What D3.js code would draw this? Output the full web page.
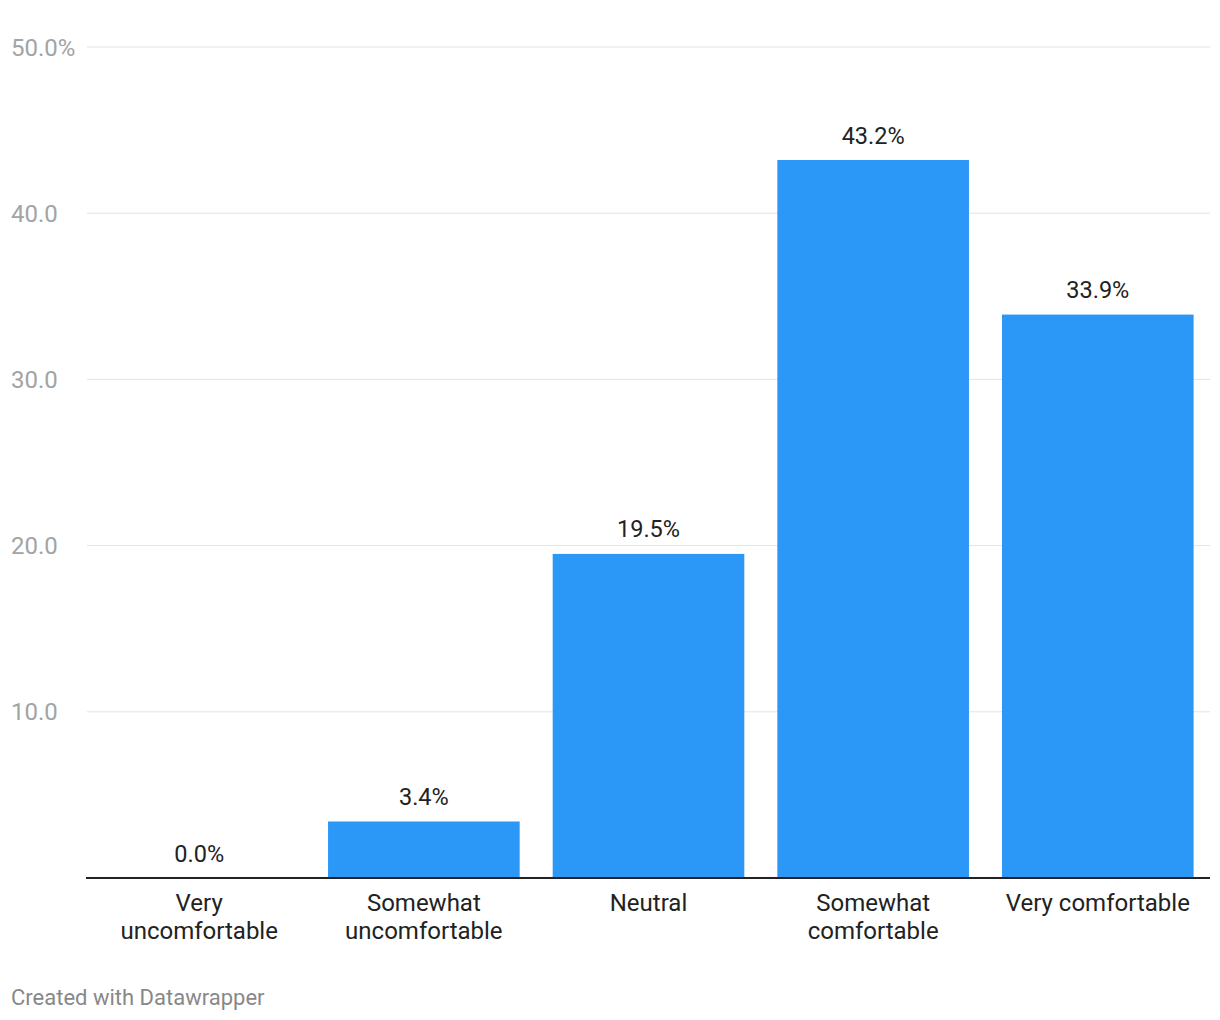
<!DOCTYPE html>
<html><head><meta charset="utf-8">
<script src="https://cdn.jsdelivr.net/npm/d3@7"></script>
<style>body{margin:0;background:#fff}svg{display:block;font-family:Roboto,sans-serif}</style>
</head><body>
<svg id="c" width="1220" height="1020"></svg>
<script>
const categories = [["Very","uncomfortable"],["Somewhat","uncomfortable"],["Neutral"],["Somewhat","comfortable"],["Very comfortable"]];
const values = [0.0, 3.4, 19.5, 43.2, 33.9];
const yTicks = [10, 20, 30, 40, 50];
const yTickLabels = ["10.0","20.0","30.0","40.0","50.0%"];
const footer = "Created with Datawrapper";

const svg = d3.select("#c");
const x = d3.scaleBand().domain(d3.range(values.length)).range([87,1210]).paddingInner(0.147).paddingOuter(0.073);
const y = d3.scaleLinear().domain([0,50]).range([878,47]);

const grid = svg.append("g");
yTicks.forEach((t,i)=>{
  grid.append("line").attr("x1",87).attr("x2",1210).attr("y1",y(t)).attr("y2",y(t)).attr("stroke","#e3e3e3").attr("stroke-width",1);
  grid.append("text").attr("x",11).attr("y",y(t)+8.5).attr("fill","#a3a3a3").attr("font-size",24).text(yTickLabels[i]);
});

svg.append("g").selectAll("rect").data(values).join("rect")
  .attr("x",(d,i)=>x(i)).attr("width",x.bandwidth())
  .attr("y",d=>y(d)).attr("height",d=>y(0)-y(d)).attr("fill","#2b97f6");

svg.append("line").attr("x1",86).attr("x2",1210).attr("y1",878).attr("y2",878).attr("stroke","#222").attr("stroke-width",2);

svg.append("g").selectAll("text").data(values).join("text")
  .attr("x",(d,i)=>x(i)+x.bandwidth()/2).attr("y",d=>y(d)-16.5)
  .attr("text-anchor","middle").attr("font-size",23.5).attr("fill","#222")
  .text(d=>d.toFixed(1)+"%");

categories.forEach((lines,i)=>{
  const t = svg.append("text").attr("x",x(i)+x.bandwidth()/2).attr("y",910.5).attr("text-anchor","middle").attr("font-size",24).attr("fill","#222");
  lines.forEach((l,j)=>t.append("tspan").attr("x",x(i)+x.bandwidth()/2).attr("dy",j?28:0).text(l));
});

svg.append("text").attr("x",11).attr("y",1004.5).attr("font-size",22).attr("fill","#888").text(footer);
</script>
</body></html>
